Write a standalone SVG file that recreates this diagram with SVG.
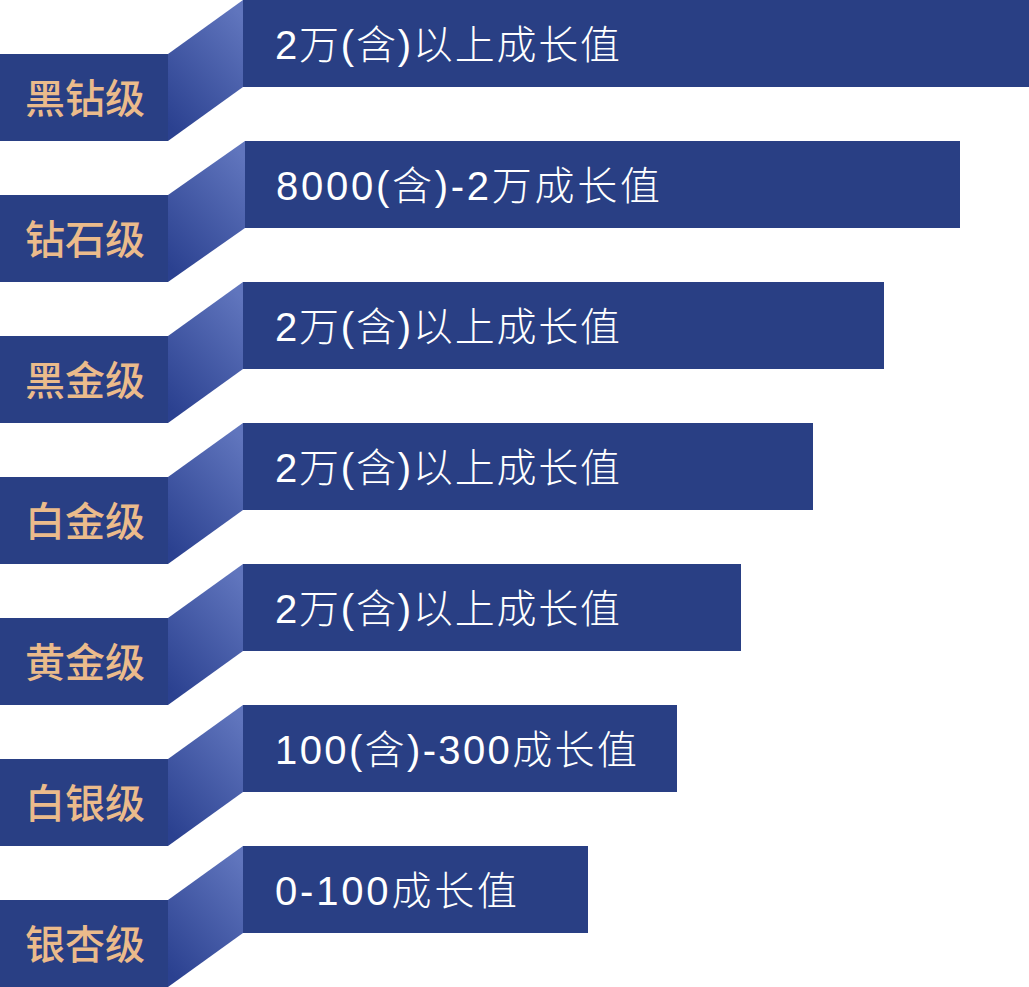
<svg xmlns="http://www.w3.org/2000/svg" width="1029" height="987" viewBox="0 0 1029 987">
<style>
.box{fill:#293F84}
.join{fill:url(#jg)}
.lbl{font-family:"Noto Sans CJK SC","Noto Sans",sans-serif;font-size:40px;font-weight:500;fill:#EBBB8B;text-anchor:middle}
.val{font-family:"Liberation Sans","Noto Sans CJK SC",sans-serif;font-size:40px;font-weight:300;fill:#FFFFFF}
</style>
<defs>
<linearGradient id="jg" x1="0.8" y1="0" x2="0.2" y2="1">
<stop offset="0" stop-color="#6075BD"/>
<stop offset="1" stop-color="#2B4190"/>
</linearGradient>
</defs>
<rect width="1029" height="987" fill="#FFFFFF"/>
<g id="connectors">
<polygon class="join" points="168,54 243,0 243,87 168,141"/>
<polygon class="join" points="168,195 245,141 245,228 168,282"/>
<polygon class="join" points="168,336 243,282 243,369 168,423"/>
<polygon class="join" points="168,477 243,423 243,510 168,564"/>
<polygon class="join" points="168,618 243,564 243,651 168,705"/>
<polygon class="join" points="168,759 243,705 243,792 168,846"/>
<polygon class="join" points="168,900 243,846 243,933 168,987"/>
</g>
<g id="row1">
<rect class="box" x="0" y="54" width="168" height="87"/>
<text class="lbl" x="85" y="113">黑钻级</text>
<rect class="box" x="243" y="0" width="786" height="87"/>
<text class="val" x="275" y="59" textLength="345" lengthAdjust="spacing">2万(含)以上成长值</text>
</g>
<g id="row2">
<rect class="box" x="0" y="195" width="168" height="87"/>
<text class="lbl" x="85" y="254">钻石级</text>
<rect class="box" x="245" y="141" width="715" height="87"/>
<text class="val" x="276" y="200" textLength="384" lengthAdjust="spacing">8000(含)-2万成长值</text>
</g>
<g id="row3">
<rect class="box" x="0" y="336" width="168" height="87"/>
<text class="lbl" x="85" y="395">黑金级</text>
<rect class="box" x="243" y="282" width="641" height="87"/>
<text class="val" x="275" y="341" textLength="345" lengthAdjust="spacing">2万(含)以上成长值</text>
</g>
<g id="row4">
<rect class="box" x="0" y="477" width="168" height="87"/>
<text class="lbl" x="85" y="536">白金级</text>
<rect class="box" x="243" y="423" width="570" height="87"/>
<text class="val" x="275" y="482" textLength="345" lengthAdjust="spacing">2万(含)以上成长值</text>
</g>
<g id="row5">
<rect class="box" x="0" y="618" width="168" height="87"/>
<text class="lbl" x="85" y="677">黄金级</text>
<rect class="box" x="243" y="564" width="498" height="87"/>
<text class="val" x="275" y="623" textLength="345" lengthAdjust="spacing">2万(含)以上成长值</text>
</g>
<g id="row6">
<rect class="box" x="0" y="759" width="168" height="87"/>
<text class="lbl" x="85" y="818">白银级</text>
<rect class="box" x="243" y="705" width="434" height="87"/>
<text class="val" x="275" y="764" textLength="362" lengthAdjust="spacing">100(含)-300成长值</text>
</g>
<g id="row7">
<rect class="box" x="0" y="900" width="168" height="87"/>
<text class="lbl" x="85" y="959">银杏级</text>
<rect class="box" x="243" y="846" width="345" height="87"/>
<text class="val" x="275" y="905" textLength="242" lengthAdjust="spacing">0-100成长值</text>
</g>
</svg>
